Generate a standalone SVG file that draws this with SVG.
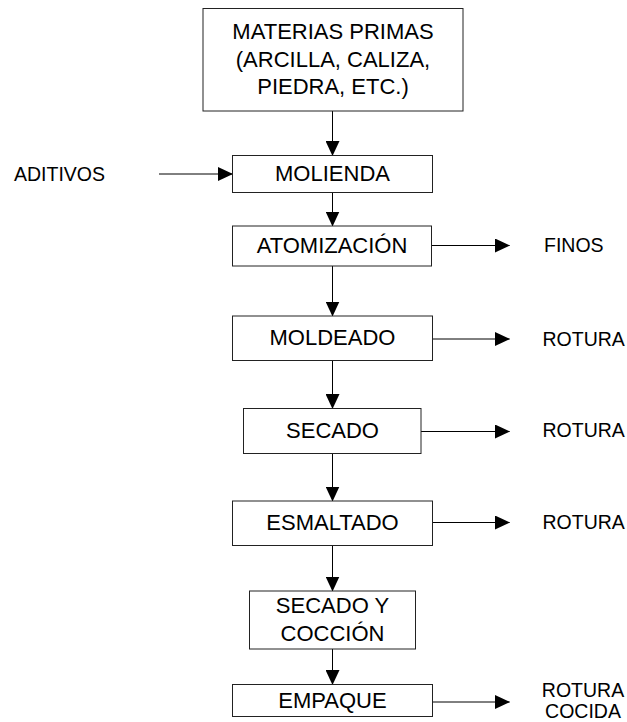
<svg xmlns="http://www.w3.org/2000/svg" width="627" height="722" viewBox="0 0 627 722">
<defs>
<marker id="ah" markerUnits="userSpaceOnUse" markerWidth="15" markerHeight="14" refX="14.5" refY="7" orient="auto" viewBox="0 0 15 14">
<path d="M0,0 L15,7 L0,14 z" fill="#000"/>
</marker>
<style>
.box{fill:#fff;stroke:#222;stroke-width:1}
.lbl{font-family:"Liberation Sans",Arial,sans-serif;font-size:22px;fill:#000;text-anchor:middle}
.side{font-family:"Liberation Sans",Arial,sans-serif;font-size:19.5px;fill:#000}
.con{fill:none;stroke:#000;stroke-width:1;marker-end:url(#ah)}
</style>
</defs>
<rect width="627" height="722" fill="#fff"/>
<g id="connectors">
<line class="con" x1="332.5" y1="111" x2="332.5" y2="155.5"/>
<line class="con" x1="159" y1="174" x2="232.5" y2="174"/>
<line class="con" x1="332.5" y1="192.5" x2="332.5" y2="226"/>
<line class="con" x1="432" y1="245.5" x2="509.5" y2="245.5"/>
<line class="con" x1="332.5" y1="266" x2="332.5" y2="316"/>
<line class="con" x1="432.5" y1="339" x2="509.5" y2="339"/>
<line class="con" x1="332.5" y1="360.5" x2="332.5" y2="408.5"/>
<line class="con" x1="421" y1="431.5" x2="509.5" y2="431.5"/>
<line class="con" x1="332.5" y1="453.5" x2="332.5" y2="501"/>
<line class="con" x1="432.5" y1="522.5" x2="509.5" y2="522.5"/>
<line class="con" x1="332.5" y1="545.5" x2="332.5" y2="591"/>
<line class="con" x1="332.5" y1="649" x2="332.5" y2="684.5"/>
<line class="con" x1="432.5" y1="702" x2="509.5" y2="702"/>
</g>
<g id="materias">
<rect class="box" x="203" y="8.5" width="260" height="102.5"/>
<text class="lbl" x="333" y="39.3">MATERIAS PRIMAS</text>
<text class="lbl" x="333" y="66.8">(ARCILLA, CALIZA,</text>
<text class="lbl" x="333" y="94.3">PIEDRA, ETC.)</text>
</g>
<g id="aditivos">
<text class="side" x="14" y="180.5">ADITIVOS</text>
</g>
<g id="molienda">
<rect class="box" x="232.5" y="155.5" width="200" height="37"/>
<text class="lbl" x="332.5" y="180.5">MOLIENDA</text>
</g>
<g id="atomizacion">
<rect class="box" x="232.5" y="226" width="199" height="40"/>
<text class="lbl" x="332" y="252.5">ATOMIZACIÓN</text>
</g>
<g id="finos">
<text class="side" x="544" y="252.3">FINOS</text>
</g>
<g id="moldeado">
<rect class="box" x="232.5" y="316" width="200" height="44.5"/>
<text class="lbl" x="332.5" y="345">MOLDEADO</text>
</g>
<g id="rotura1">
<text class="side" x="542.5" y="345.7">ROTURA</text>
</g>
<g id="secado">
<rect class="box" x="243.5" y="408.5" width="177.5" height="45"/>
<text class="lbl" x="332.5" y="437.7">SECADO</text>
</g>
<g id="rotura2">
<text class="side" x="542.5" y="436.7">ROTURA</text>
</g>
<g id="esmaltado">
<rect class="box" x="232.5" y="501" width="200" height="44.5"/>
<text class="lbl" x="332.5" y="530">ESMALTADO</text>
</g>
<g id="rotura3">
<text class="side" x="542.5" y="529">ROTURA</text>
</g>
<g id="coccion">
<rect class="box" x="249.5" y="591" width="166" height="58"/>
<text class="lbl" x="332.5" y="613.3">SECADO Y</text>
<text class="lbl" x="332.5" y="641">COCCIÓN</text>
</g>
<g id="empaque">
<rect class="box" x="232.5" y="684.5" width="200" height="32"/>
<text class="lbl" x="332.5" y="708.3">EMPAQUE</text>
</g>
<g id="rotura_cocida">
<text class="side" x="583" y="696.7" text-anchor="middle">ROTURA</text>
<text class="side" x="583" y="718.3" text-anchor="middle">COCIDA</text>
</g>
</svg>
